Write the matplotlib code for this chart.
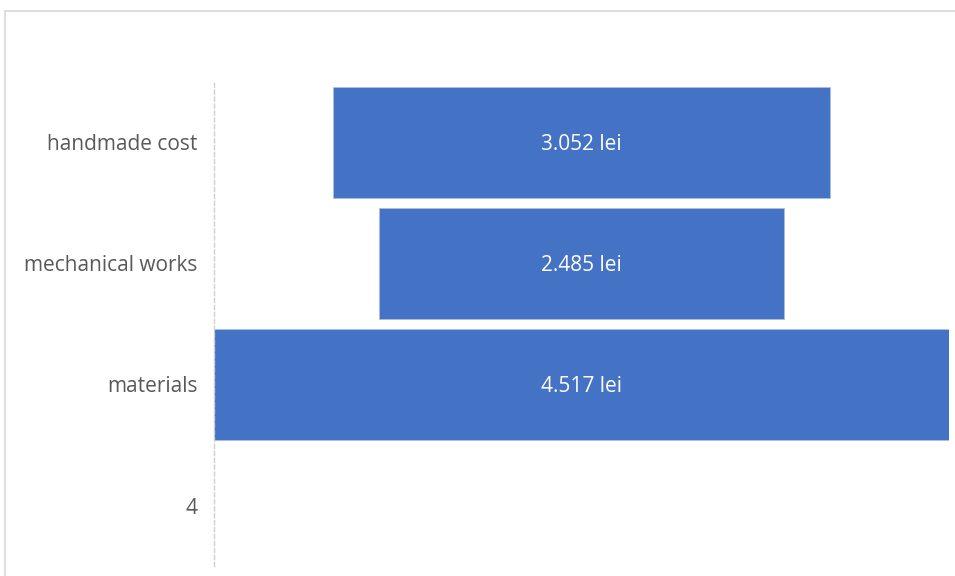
import matplotlib
matplotlib.use("Agg")
import matplotlib.pyplot as plt
from matplotlib.patches import Rectangle

categories = ["handmade cost", "mechanical works", "materials", "4"]
values = [3052, 2485, 4517, None]
value_labels = ["3.052 lei", "2.485 lei", "4.517 lei", ""]

plt.rcParams['font.family'] = ['Open Sans', 'DejaVu Sans']

fig = plt.figure(figsize=(9.55, 5.76), dpi=100)
fig.patches.append(Rectangle((4.5/955, -0.1), 1.2, 1 - 11/576 + 0.1, transform=fig.transFigure,
                             fill=False, edgecolor="#D9D9D9", linewidth=1.2))
ax = fig.add_axes([214/955, 10/576, 735/955, 484/576])

vmax = max(v for v in values if v is not None)
ypos = list(range(len(categories)))
for y, v, lab in zip(ypos, values, value_labels):
    if v is None:
        continue
    left = (vmax - v) / 2
    ax.barh(y, v, left=left, height=0.92, color="#4472C4", edgecolor="#A9BEE6", linewidth=0.6)
    ax.text(vmax / 2, y, lab, ha="center", va="center_baseline", color="white", fontsize=15)

ax.set_xlim(0, vmax)
ax.set_ylim(len(categories) - 0.5, -0.5)
ax.set_yticks(ypos)
ax.set_yticklabels(categories, color="#595959", fontsize=15)
for t in ax.get_yticklabels():
    t.set_va("center_baseline")
ax.tick_params(axis="y", length=0, pad=12)
ax.set_xticks([])
for s in ["top", "right", "bottom"]:
    ax.spines[s].set_visible(False)
ax.spines["left"].set_color("#D0D0D0")
ax.spines["left"].set_linestyle((0, (3, 2)))
ax.spines["left"].set_linewidth(1.0)

fig.savefig("out.png", dpi=100)
